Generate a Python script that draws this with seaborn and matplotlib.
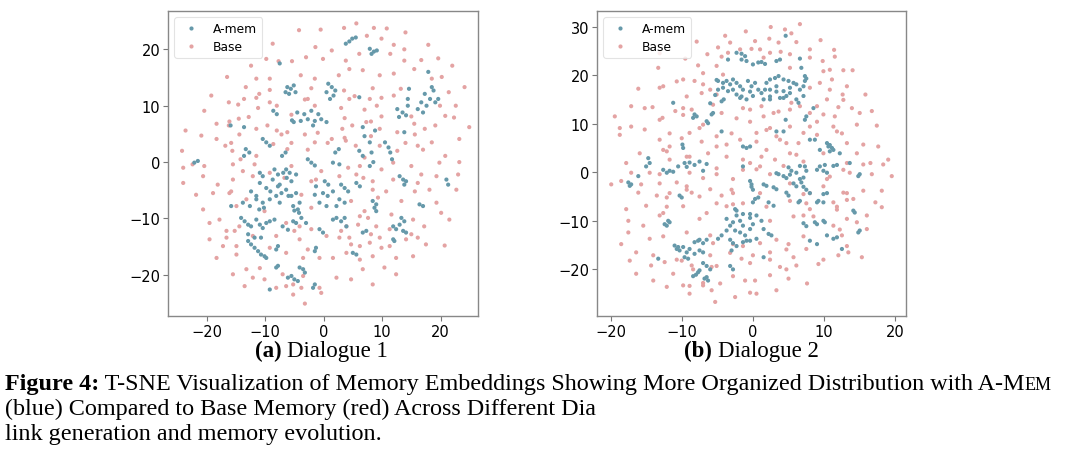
import numpy as np
import pandas as pd
import matplotlib
matplotlib.use("Agg")
import matplotlib.pyplot as plt
import seaborn as sns
from matplotlib.patches import Polygon

# t-SNE points (x, y)
amem_d1 = np.array([
    (3.8,21.0),(4.4,21.4),(4.9,21.9),(5.5,22.1),(7.9,20.1),(8.6,19.6),(9.1,19.8),(8.2,19.2),
    (-7.5,17.5),(-6.2,13.3),(-5.6,13.0),(-5.1,13.6),(-5.9,12.1),(-4.8,12.4),(-6.5,12.4),
    (0.8,13.9),(1.4,13.3),(0.5,12.4),(1.7,11.8),(1.1,11.2),(2.0,12.7),
    (17.9,16.0),(18.5,13.3),(18.8,12.7),(17.3,12.1),(18.2,11.2),(16.7,10.6),(17.6,10.0),
    (19.1,10.6),(19.6,11.2),(16.1,9.4),(17.0,8.8),(14.6,13.0),(14.4,11.2),
    (-8.6,9.1),(-8.0,8.5),(-4.5,8.8),(-3.3,8.5),(-2.1,9.1),(-0.9,8.5),(-2.7,7.6),(-1.5,7.3),
    (-0.4,7.6),(-3.9,7.3),(-5.1,7.1),(0.5,7.1),(-1.8,6.5),(6.1,11.5),
    (12.6,9.4),(13.5,8.8),(14.1,8.3),(12.9,8.0),(14.4,10.0),
    (-15.9,6.5),(-13.6,6.2),(-5.4,7.4),(6.7,6.2),(8.8,5.6),(13.8,5.3),
    (-13.3,2.3),(-13.6,1.1),(-12.7,1.7),(-10.4,4.1),(-9.8,3.5),(-9.2,2.9),(-7.1,1.1),(-6.5,1.7),
    (-2.7,0.5),(-2.1,-0.1),(-1.5,-0.6),(2.0,1.7),(2.6,2.3),(6.1,2.0),(6.7,1.1),(7.9,3.5),
    (8.2,1.7),(8.5,0.0),(10.5,3.5),(11.1,2.6),(11.4,1.7),(11.7,0.5),(-21.5,0.2),(-22.1,-0.1),
    (-10.9,-1.9),(-10.4,-2.5),(-6.4,-1.3),(-5.8,-1.9),(1.6,-0.1),(2.7,-0.4),(7.9,-0.7),
    (13.0,-2.5),(13.6,-3.1),(13.8,-4.0),(14.1,-3.4),(21.0,-3.1),(21.3,-4.0),
    (-10.9,-3.7),(-9.8,-4.6),(-8.7,-3.1),(-7.8,-4.3),(-7.2,-5.5),(-8.1,-6.0),(-9.2,-6.6),
    (-10.4,-7.2),(-6.4,-4.9),(-5.5,-6.0),(-4.7,-5.5),(-4.1,-7.2),(-5.2,-7.8),(-7.5,-7.2),
    (-11.5,-6.0),(-12.6,-7.8),(-13.8,-7.2),(-15.8,-7.8),
    (-1.3,-4.3),(-0.1,-5.5),(0.7,-6.0),(1.6,-5.2),(2.7,-6.6),(3.6,-7.2),(-0.7,-7.2),(0.5,-7.8),
    (2.2,-7.8),(5.6,-3.7),(6.2,-4.3),(8.4,-6.9),(9.0,-7.5),(16.4,-7.5),(17.0,-7.8),
    (-4.4,-8.4),(-4.2,-9.0),
    (-14.1,-9.9),(-13.5,-10.5),(-12.9,-11.1),(-12.4,-11.4),(-11.5,-10.2),(-10.9,-11.1),
    (-10.4,-11.7),(-9.8,-10.8),(-9.2,-10.5),(-8.4,-10.2),(-7.0,-11.4),(-6.1,-12.0),(-5.2,-10.5),
    (-4.7,-10.8),(-0.7,-11.9),(-0.1,-12.5),(1.6,-10.2),(2.2,-9.9),(3.0,-10.5),(3.6,-9.9),
    (6.7,-12.5),(7.3,-12.2),(11.9,-11.4),(12.4,-11.9),(13.0,-11.1),(13.3,-9.9),(13.8,-10.5),
    (13.6,-12.2),(14.1,-12.5),
    (-12.9,-14.0),(-12.4,-14.6),(-11.8,-15.2),(-11.2,-15.8),(-10.7,-16.4),(-10.1,-16.7),
    (-9.8,-17.0),(-8.1,-15.5),(-7.8,-14.9),(-1.3,-15.2),(-1.5,-15.8),(5.0,-16.1),(5.6,-16.4),
    (11.9,-13.7),(12.1,-14.0),
    (-8.1,-18.7),(-7.8,-18.4),(-6.1,-20.5),(-5.5,-20.2),(-5.0,-20.8),(-4.4,-21.1),(-4.1,-18.7),
    (-3.5,-19.0),(-3.2,-19.6),(-1.5,-21.7),(-1.8,-22.3),(-9.2,-22.6),
    (-8.4,-1.3),(-7.8,-2.2),(-6.9,-1.9),(-6.3,-2.8),(-5.5,-3.4),(-4.7,-2.2),(-7.5,-4.0),
    (0.2,-3.4),(0.8,-4.0),(3.0,-4.0),(3.6,-4.6),(4.2,-5.2),(-12.4,-5.2),(-11.5,-6.6),
    (-10.2,-8.1),(-9.1,-5.2),(-6.0,-6.0),(-5.0,-8.6),(-11.0,-8.4),(-12.9,-12.8),(-11.8,-13.4),
    (-10.7,-13.4),(-3.8,-9.9),(-3.0,-10.8),(3.9,-11.4),(7.0,4.6),(-1.5,-5.8),(8.7,-8.1),(9.0,-8.7),
])

base_d1 = np.array([
    (5.6,24.6),(3.5,23.8),(-0.5,23.5),(-4.2,23.4),(8.6,23.8),(10.8,23.7),(14.0,23.0),
    (-8.7,21.0),(-1.4,20.4),(9.9,21.9),(7.4,22.4),(12.0,20.8),(17.9,20.8),(1.4,19.8),(6.1,19.2),
    (11.4,19.2),(-9.8,18.3),(-7.7,17.9),(-5.4,17.9),(-3.0,18.6),(-0.1,18.3),(3.8,18.0),
    (13.8,18.0),(16.7,18.1),(19.6,18.4),(22.0,17.1),(13.8,20.0),
    (-16.5,15.1),(-12.4,17.1),(-11.5,14.8),(-9.2,14.8),(-3.9,15.4),(-1.5,14.8),(2.6,15.4),
    (4.4,16.5),(6.7,16.3),(9.6,15.4),(12.0,15.7),(15.5,16.5),(18.5,14.8),(20.2,15.1),(-13.3,13.3),
    (-19.2,11.8),(-13.6,11.2),(-16.2,10.6),(-20.4,9.1),(-9.2,10.6),(-2.7,11.2),(-1.5,10.0),
    (3.5,12.7),(4.4,11.2),(7.9,11.2),(12.0,11.8),(13.2,13.0),(21.4,12.4),(24.1,13.3),(22.6,10.0),
    (19.9,10.0),(-11.0,12.1),(-8.0,10.0),(9.1,10.0),
    (-23.6,5.6),(-20.9,4.7),(-18.3,6.8),(-16.2,6.5),(-14.5,7.7),(-11.5,5.9),(-8.0,5.6),(3.2,5.9),
    (4.9,6.5),(7.3,7.1),(9.6,5.9),(12.6,5.3),(15.5,6.8),(17.3,5.9),(19.1,6.5),(20.8,8.2),
    (22.3,7.9),(24.9,6.2),(23.2,4.1),(-12.8,8.0),(-9.6,6.5),(-6.2,5.3),
    (-24.2,2.0),(-22.4,-0.4),(-18.3,4.1),(-16.8,2.9),(-14.2,0.5),(-8.6,3.2),(-1.5,3.5),(3.8,3.8),
    (16.1,2.9),(18.5,3.5),(20.8,1.1),(23.2,0.0),(-20.4,-0.7),(-15.6,2.0),(-11.5,1.1),(-6.2,2.3),
    (1.4,4.1),(5.5,2.9),(7.0,0.8),(9.6,2.9),(12.6,2.0),
    (-24.0,-1.0),(-24.0,-3.7),(-20.6,-2.5),(-18.1,-4.0),(-15.5,-3.1),(-13.8,-1.6),(-12.1,-2.5),
    (19.8,-0.1),(23.0,-2.2),(19.3,-2.5),(16.1,-3.7),(-9.2,-1.9),(11.9,-0.1),(6.2,-0.7),
    (-21.8,-5.8),(-20.6,-8.4),(-16.1,-5.5),(-14.9,-7.8),(6.8,-2.8),(10.7,-5.2),(18.1,-4.9),
    (19.3,-7.2),(22.7,-4.9),(-18.9,-5.5),(-13.2,-6.6),(-1.3,-3.1),(2.7,-2.5),(8.4,-4.9),
    (11.9,-3.1),
    (-19.5,-10.8),(-16.6,-12.2),(3.9,-11.4),(7.6,-9.9),(11.3,-11.9),(17.2,-11.4),(20.1,-9.0),
    (-17.8,-10.2),(-14.4,-11.4),(-6.4,-10.8),(-4.1,-11.4),(-2.1,-11.9),(6.2,-9.6),(9.0,-11.4),
    (15.3,-10.2),(21.5,-10.2),
    (-19.5,-13.7),(-17.2,-14.9),(-12.1,-13.1),(-4.1,-13.7),(-2.7,-15.5),(2.7,-13.4),(4.4,-13.4),
    (6.2,-14.9),(9.6,-13.4),(11.3,-14.9),(16.1,-13.4),(17.5,-14.6),(20.7,-14.8),(-18.3,-17.0),
    (-9.2,-15.2),(-0.7,-17.0),(1.6,-17.0),(3.9,-16.1),(8.4,-16.7),(12.4,-17.0),(15.3,-16.7),
    (-16.6,-13.4),(-14.9,-14.9),(-8.1,-13.1),(0.5,-13.1),(7.9,-14.3),(14.1,-13.7),(-14.9,-16.4),
    (-6.4,-16.1),(-3.5,-17.0),(6.2,-17.3),
    (-15.5,-19.9),(-13.5,-22.0),(-10.9,-18.8),(-10.1,-20.8),(-7.0,-19.9),(-5.2,-21.7),
    (-3.5,-20.2),(-3.8,-22.3),(-5.2,-23.5),(-0.7,-22.3),(-0.4,-23.2),(-3.2,-25.1),(2.2,-20.5),
    (4.7,-20.8),(6.7,-19.0),(8.4,-21.7),(10.4,-18.7),(-8.1,-22.3),(-13.2,-19.0),(-12.1,-20.5),
    (-6.4,-22.0),(12.4,-19.9),
    (-9.2,12.8),(-11.5,11.4),(-2.1,13.1),(-3.2,11.1),(5.3,11.7),(8.4,13.1),(9.9,11.4),
    (-16.1,7.2),(-14.6,10.2),(-11.2,9.6),(-5.5,8.4),(3.0,9.6),(3.6,7.8),(7.0,9.3),(8.1,7.2),
    (9.9,8.1),(15.0,8.1),(-15.8,3.4),(-14.4,4.9),(-7.2,4.9),(-5.5,3.4),(-3.2,4.9),(-1.0,5.2),
    (0.7,3.4),(3.6,4.3),(8.1,4.6),(14.0,3.4),(15.6,4.9),(17.0,2.2),(-2.7,2.2),
    (-15.5,-0.4),(-11.8,-0.4),(-5.5,-0.7),(-6.7,-2.8),(-0.4,-1.6),(4.2,-1.0),(5.6,-2.2),
    (9.9,-1.3),(15.0,-0.7),(16.7,-2.2),(8.4,-3.4),(-2.1,-3.4),
    (-15.8,-5.2),(-3.8,-5.8),(-2.1,-8.1),(4.7,-6.9),(7.0,-8.7),(9.3,-6.3),(13.3,-6.9),
    (15.6,-5.2),(11.6,-9.3),(-10.1,-8.7),(-15.2,-12.2),(3.0,-12.2),(5.9,-11.1),(8.1,-12.8),
    (15.0,-12.8),(4.7,-14.6),(9.9,-15.2),(-5.0,-12.2),
])

amem_d2 = np.array([
    (4.6,28.1),(-2.3,24.6),(-1.6,24.4),(-1.1,23.9),(-1.6,23.2),(-0.9,22.9),(0.75,22.6),(1.2,22.7),
    (1.7,22.3),(3.3,22.9),(3.8,23.2),(6.6,23.4),(6.8,21.5),(7.3,19.8),(7.5,19.3),(0.0,22.2),
    (-3.5,23.2),
    (-4.9,18.8),(-4.2,18.4),(-3.7,18.8),(-3.2,18.1),(-2.8,19.1),(-2.3,18.4),(-1.8,17.7),(-2.8,17.0),
    (-3.5,16.7),(-4.2,17.4),(-2.3,16.0),(-1.4,17.0),(-0.7,18.8),(-0.2,17.7),(0.3,18.4),(0.75,17.0),
    (1.2,16.3),(0.0,15.7),(-0.9,15.0),(-1.8,15.3),(1.9,18.4),(2.4,19.1),(3.1,19.4),(3.6,19.8),
    (4.3,19.1),(5.0,18.8),(5.7,18.4),(2.4,17.0),(3.3,17.7),(4.3,16.7),(5.2,17.4),(6.1,18.1),
    (3.8,15.3),(4.7,15.7),(2.4,15.0),(1.5,15.0),(7.3,18.8),(6.6,17.0),(7.1,15.7),(-4.9,17.0),
    (-11.2,14.3),(-8.4,11.2),(-7.9,11.5),(-8.2,11.9),(-6.5,10.5),(-6.3,10.1),(-5.8,11.9),
    (-5.6,12.2),(-4.4,14.6),(-4.1,15.0),(6.1,15.0),(6.4,14.3),(7.5,11.5),(7.3,10.8),(4.6,10.8),
    (8.5,13.2),
    (-14.7,2.9),(-14.5,1.9),(-15.0,1.2),(-9.9,5.7),(-9.8,5.0),(-9.6,1.9),(-8.9,2.0),(-8.2,1.5),
    (-7.5,2.2),(-6.5,1.7),(-10.5,1.2),(-4.4,8.4),(-1.4,5.3),(-0.9,5.0),(-0.4,5.3),(3.3,8.4),
    (8.0,6.7),(8.7,6.7),(10.4,6.0),(10.6,5.3),(11.1,5.0),(10.8,4.3),(12.2,3.9),(9.4,4.6),
    (6.6,1.3),(7.3,1.2),(10.1,1.5),(13.6,1.9),(-1.4,1.2),
    (-17.5,-2.1),(-17.3,-2.8),(-17.1,-2.5),(-16.1,-0.8),(-12.1,-0.1),(-11.7,0.3),(-7.0,0.3),
    (-0.4,-1.8),(-0.2,-2.5),(3.6,-0.4),(4.3,-0.8),(5.0,1.0),(5.4,0.3),(6.1,-0.1),(6.6,-1.4),
    (6.8,-2.1),(7.1,-1.1),(7.5,0.3),(9.9,0.3),(10.4,-0.1),(11.3,1.3),(14.8,-0.8),(15.0,-0.4),
    (1.5,-2.5),(1.9,-2.8),(2.9,-3.1),(3.3,-3.5),
    (-10.3,-4.8),(-10.0,-5.2),(-2.5,-7.6),(-2.3,-7.9),(0.0,-6.2),(0.3,-5.5),(0.75,-5.2),
    (2.2,-6.2),(2.9,-6.9),(4.7,-4.2),(5.0,-4.8),(6.4,-6.2),(6.6,-5.9),(9.0,-6.2),(9.2,-5.9),
    (9.9,-4.5),(9.9,-6.2),(14.1,-7.9),(14.3,-8.3),
    (-12.4,-10.7),(-11.9,-10.0),(-11.7,-10.3),(-12.1,-11.0),
    (-3.7,-9.6),(-3.2,-11.0),(-2.8,-10.3),(-2.3,-8.9),(-1.8,-10.0),(-1.4,-11.0),(-2.5,-12.0),
    (-1.8,-12.4),(-1.1,-13.0),(-0.4,-11.7),(0.0,-10.7),(0.5,-8.9),(-0.4,-8.6),(1.2,-10.0),
    (1.5,-11.7),(2.2,-12.7),(2.6,-13.0),(0.5,-13.7),(-0.4,-14.1),(-3.7,-12.0),(-4.4,-13.0),
    (-4.9,-13.7),
    (8.7,-10.3),(9.0,-10.7),(9.9,-10.0),(10.1,-10.3),(10.4,-13.0),(14.8,-12.4),(15.0,-12.0),
    (-11.0,-15.1),(-10.5,-15.4),(-10.7,-15.8),(-10.3,-16.1),(-9.8,-15.4),(-9.3,-16.5),
    (-8.9,-15.8),(-8.2,-14.4),(-7.7,-14.1),(-9.6,-17.5),(-9.1,-17.8),(-8.2,-16.8),(-7.5,-16.1),
    (-7.0,-16.5),(-13.3,-17.8),(-3.0,-16.1),(-1.4,-14.4),(-0.9,-14.1),(1.5,-17.5),(8.0,-14.1),
    (9.0,-14.8),(11.3,-13.7),(11.8,-13.4),(12.5,-15.8),
    (-7.7,-20.6),(-7.5,-20.2),(-6.8,-21.9),(-6.5,-21.6),(-6.3,-22.3),
    (-5.1,19.0),(-1.6,15.6),(-0.4,16.6),(1.7,17.0),(2.4,15.6),(3.3,16.6),(4.3,15.3),(5.2,16.3),
    (7.1,17.7),(-5.3,15.9),(-6.0,14.2),(4.3,8.4),(10.8,5.6),(11.3,4.6),
    (-0.2,-3.0),(0.0,-3.6),(4.7,-1.2),(5.2,-0.5),(7.1,-3.0),(7.5,-3.6),(8.0,-4.3),
    (-12.6,0.5),(-11.2,0.1),(-9.3,1.1),(3.3,-0.2),(5.7,-2.3),(6.1,-2.9),(9.0,0.5),(9.4,1.2),
    (11.8,1.5),(10.4,-4.3),(7.1,-10.5),(7.5,-11.1),(-3.2,-13.9),(-2.8,-14.6),(-2.3,-15.2),
    (-7.0,-18.7),(-6.5,-19.3),(-6.0,-20.0),(-8.4,-21.4),(-8.0,-21.1),(-3.2,-19.3),(-2.8,-20.0),
    (-7.5,-13.9),(-7.0,-14.6),(-6.5,-13.9),(-1.4,-8.6),(-0.4,-9.4),
])

base_d2 = np.array([
    (6.6,30.5),(2.5,29.9),(4.5,29.4),(5.4,28.6),(-1.0,29.0),(-3.9,28.1),(-7.9,26.9),(-3.2,26.7),
    (0.3,27.0),(2.3,27.5),(3.6,26.7),(6.1,26.8),(9.5,27.2),(11.4,25.2),(8.0,25.3),
    (-9.5,23.4),(-13.3,21.5),(-7.7,22.0),(-6.4,24.3),(-4.9,25.7),(-1.8,25.3),(-0.2,25.4),
    (1.0,25.3),(2.4,24.6),(3.9,24.8),(5.2,24.3),(8.0,23.6),(9.8,22.9),(12.7,21.0),(14.0,21.0),
    (-5.1,21.9),(5.2,21.5),(-3.5,24.6),(-4.2,20.1),(1.5,23.6),(9.9,20.8),
    (-16.1,17.2),(-13.1,17.4),(-9.8,19.1),(-8.2,18.8),(-6.0,17.0),(-7.2,16.3),(8.0,17.4),
    (9.4,18.4),(10.8,17.0),(13.2,17.7),(11.1,19.1),(12.6,16.0),(15.8,16.0),(-7.0,18.1),(-5.1,16.0),
    (-14.1,13.4),(-12.7,11.2),(-10.9,12.6),(-9.8,13.2),(-8.6,12.9),(-5.6,13.9),(-4.4,12.2),
    (1.2,13.6),(5.4,14.3),(9.0,13.6),(12.0,13.4),(8.0,12.2),(15.0,12.2),(16.7,12.6),(-17.1,9.4),
    (11.3,9.4),(14.6,9.8),(17.4,9.6),(-19.4,11.5),(-17.1,13.6),(-18.7,9.1),(-0.4,12.9),
    (2.9,12.2),(6.6,13.6),(10.4,15.0),(9.9,11.9),(13.9,13.2),(-15.2,13.2),(-7.0,9.8),(8.0,9.4),
    (-18.7,7.7),(-15.2,8.8),(-15.9,3.9),(-17.8,1.9),(-13.1,6.7),(-10.0,7.0),(-7.2,6.3),(-5.1,7.4),
    (-3.7,5.7),(-1.8,6.7),(0.5,8.1),(2.4,9.1),(4.7,6.0),(7.1,8.1),(9.0,7.7),(13.2,6.0),(15.5,5.7),
    (17.6,5.3),(19.0,2.6),(-12.1,4.3),(-8.9,3.2),(1.2,3.2),(6.1,3.6),(9.9,3.9),(14.6,3.9),
    (16.5,1.9),(-11.7,5.3),(-8.9,8.1),(-6.3,3.9),(3.3,7.4),(11.8,8.4),(-11.7,2.6),(-3.7,3.2),
    (-1.4,2.6),(3.1,2.6),
    (-19.9,-2.5),(-18.5,-1.8),(-13.1,-0.4),(-2.8,-1.4),(0.5,0.6),(13.6,-0.1),(16.7,-0.4),
    (19.5,-0.8),(18.3,1.6),(-15.7,-2.5),(-14.5,-0.1),(-10.7,-2.1),(-8.9,-0.1),(-5.1,-0.4),
    (2.4,-0.4),(4.3,1.3),(10.4,-1.4),(15.5,1.6),(-17.1,-0.1),
    (-17.8,-7.6),(-16.1,-4.2),(-13.5,-4.8),(-6.0,-3.5),(5.2,-5.9),(8.0,-7.6),(11.3,-6.2),
    (14.1,-5.5),(18.1,-3.8),(17.2,-6.2),(-15.0,-6.9),(-12.1,-5.2),(-8.6,-4.2),(-4.4,-4.8),
    (-2.8,-6.6),(7.1,-4.5),(12.7,-4.2),(15.5,-3.8),(18.1,-7.2),
    (-17.5,-10.0),(-17.5,-12.4),(-15.4,-11.0),(16.0,-8.9),(16.0,-11.7),(12.5,-13.0),
    (-14.5,-13.7),(-13.1,-8.9),(-9.3,-12.4),(-7.5,-9.6),(-6.0,-13.0),(2.4,-10.0),(7.1,-8.9),
    (11.3,-11.0),(13.2,-9.6),(14.6,-10.3),
    (-18.5,-14.8),(-17.3,-18.2),(-16.4,-16.5),(-14.3,-19.2),(-10.0,-18.2),(-6.0,-17.1),
    (-5.8,-19.5),(3.8,-19.5),(5.7,-17.5),(7.5,-15.8),(9.2,-18.9),(12.0,-17.1),(13.4,-16.5),
    (15.3,-17.5),(5.0,-14.8),(-14.0,-17.1),(-12.4,-18.5),(-8.6,-19.2),(-2.8,-14.8),(-1.6,-17.8),
    (0.0,-17.1),(2.4,-16.5),(6.1,-19.2),
    (-16.4,-20.9),(-14.0,-22.3),(-12.1,-23.6),(-9.8,-23.3),(-8.9,-25.0),(-5.8,-24.3),
    (-5.3,-26.7),(-4.6,-22.9),(-2.5,-25.7),(0.3,-22.3),(0.5,-25.0),(3.3,-24.3),(5.0,-21.9),
    (7.6,-22.9),(-11.2,-20.9),(-7.0,-23.3),(-1.1,-22.3),(2.4,-21.2),
    (-13.1,24.5),(-4.4,23.8),(11.5,23.8),(-12.6,17.7),(-10.7,18.7),(-9.3,15.6),(-7.0,20.4),
    (12.7,14.9),(10.8,21.1),(-13.1,10.8),(-11.7,8.0),(-9.8,11.8),(-7.5,9.1),(-3.0,8.0),
    (-2.3,11.1),(-0.4,10.4),(1.5,11.5),(3.6,12.5),(1.9,8.7),(5.2,9.4),(9.0,10.4),(11.5,11.5),
    (12.5,8.0),(-1.4,13.2),(5.2,12.9),(-12.6,4.6),(-9.3,3.2),(-5.1,5.3),(0.5,6.3),(1.9,4.6),
    (3.8,6.7),(5.2,3.9),(6.4,6.0),(13.2,1.9),(7.1,2.2),(-0.4,1.9),
    (-13.1,-2.3),(-9.3,-3.6),(-3.0,-3.6),(-1.4,-6.4),(1.9,-7.1),(7.5,-6.4),(11.8,-7.1),
    (13.2,-4.3),(-12.1,-7.1),(-5.1,-6.4),(-9.3,-2.9),(-7.0,-1.2),(-5.1,0.8),(-1.4,0.5),
    (1.0,1.2),(5.2,-2.3),(10.8,-0.9),(12.7,0.5),(9.9,-2.9),(-11.7,-4.3),(-9.8,-7.0),(-7.5,-5.0),
    (-3.7,-7.0),(-2.8,-4.3),(1.0,-4.3),(8.0,-4.3),(11.8,-7.7),(13.2,-5.7),(-6.5,-8.4),
    (-12.6,-8.4),(5.7,-9.1),(8.5,-9.1),(-12.6,-13.2),(-5.6,-14.6),(1.0,-14.6),(3.3,-13.9),
    (4.7,-15.9),(7.1,-13.2),(12.2,-11.8),(13.2,-15.2),(-3.2,-16.6),(-1.4,-15.2),
    (-8.4,-20.0),(-7.0,-22.8),(-5.1,-19.3),(-2.8,-21.4),(-0.4,-18.7),(2.4,-18.0),(4.7,-20.0),
    (9.9,-18.0),(-0.4,-24.8),(-8.9,-23.4),(-10.7,-18.0),
])

series_labels = ["A-mem", "Base"]
panel_titles = [("(a)", "Dialogue 1"), ("(b)", "Dialogue 2")]
caption_line1 = "T-SNE Visualization of Memory Embeddings Showing More Organized Distribution with A-M"
caption_line2 = "(blue) Compared to Base Memory (red) Across Different Dia"
caption_line3 = "link generation and memory evolution."

palette = {"A-mem": "#6699aa", "Base": "#e4a3a3"}

sns.set_style("ticks")
plt.rcParams["font.family"] = ["DejaVu Sans"]
plt.rcParams["text.color"] = "black"
plt.rcParams["xtick.labelcolor"] = "black"
plt.rcParams["ytick.labelcolor"] = "black"

W, H = 1080, 452
fig = plt.figure(figsize=(W / 100, H / 100), dpi=100)
ax1 = fig.add_axes([168 / W, 1 - 317 / H, 310 / W, 305 / H])
ax2 = fig.add_axes([597 / W, 1 - 317 / H, 309 / W, 305 / H])


def make_df(amem, base):
    d_base = pd.DataFrame({"x": base[:, 0], "y": base[:, 1], "group": "Base"})
    d_amem = pd.DataFrame({"x": amem[:, 0], "y": amem[:, 1], "group": "A-mem"})
    return pd.concat([d_base, d_amem], ignore_index=True)


panels = [
    (ax1, make_df(amem_d1, base_d1), (-26.6, 26.4), (-27.3, 26.8), [-20, -10, 0, 10, 20], [-20, -10, 0, 10, 20]),
    (ax2, make_df(amem_d2, base_d2), (-21.9, 21.5), (-29.6, 33.2), [-20, -10, 0, 10, 20], [-20, -10, 0, 10, 20, 30]),
]

for ax, df, xl, yl, xt, yt in panels:
    sns.scatterplot(data=df, x="x", y="y", hue="group", hue_order=series_labels,
                    palette=palette, s=9, linewidth=0, ax=ax)
    ax.set_xlim(xl)
    ax.set_ylim(yl)
    ax.set_xticks(xt)
    ax.set_yticks(yt)
    ax.set_xlabel("")
    ax.set_ylabel("")
    ax.tick_params(labelsize=10.5, length=3.5, color="#777777", width=0.8, pad=2,
                   labelcolor="black")
    for sp in ax.spines.values():
        sp.set_visible(True)
        sp.set_color("#888888")
        sp.set_linewidth(1.0)
    leg = ax.legend(loc="upper left", fontsize=8.8, frameon=True, markerscale=1.0,
                    handletextpad=0.8, borderpad=0.4, labelspacing=0.4)
    leg.get_frame().set_edgecolor("#dddddd")
    leg.get_frame().set_linewidth(0.8)
    for t in leg.get_texts():
        t.set_color("black")

renderer = fig.canvas.get_renderer()


def write_runs(runs, x0, y0):
    x = x0
    for s, kw in runs:
        t = fig.text(x / W, 1 - y0 / H, s, ha="left", va="baseline", color="black", **kw)
        x += t.get_window_extent(renderer).width
    return x


serif = ["Liberation Serif", "DejaVu Serif"]
# panel labels
for (tag, name), xr, xl in zip(panel_titles, [282, 712], [287, 718]):
    fig.text(xr / W, 1 - 357 / H, tag, ha="right", va="baseline", family=serif,
             fontsize=16.5, fontweight="bold", color="black")
    fig.text(xl / W, 1 - 357 / H, name, ha="left", va="baseline", family=serif,
             fontsize=16.5, color="black")

# caption
cap = 17.4
write_runs([("Figure 4:", dict(family=serif, fontsize=cap, fontweight="bold")),
            (" " + caption_line1, dict(family=serif, fontsize=cap)),
            ("EM", dict(family=serif, fontsize=cap * 0.75))], 5, 390)
write_runs([(caption_line2, dict(family=serif, fontsize=cap))], 5, 415)
write_runs([(caption_line3, dict(family=serif, fontsize=cap))], 5, 440)

# white smudge over the lower right of the caption
smudge = Polygon([(600 / W, 1 - 385 / H), (1.0, 1 - 381 / H), (1.0, 0.0), (680 / W, 0.0)],
                 closed=True, transform=fig.transFigure, facecolor="white", edgecolor="none")
fig.patches.append(smudge)

fig.savefig("out.png", dpi=100)
